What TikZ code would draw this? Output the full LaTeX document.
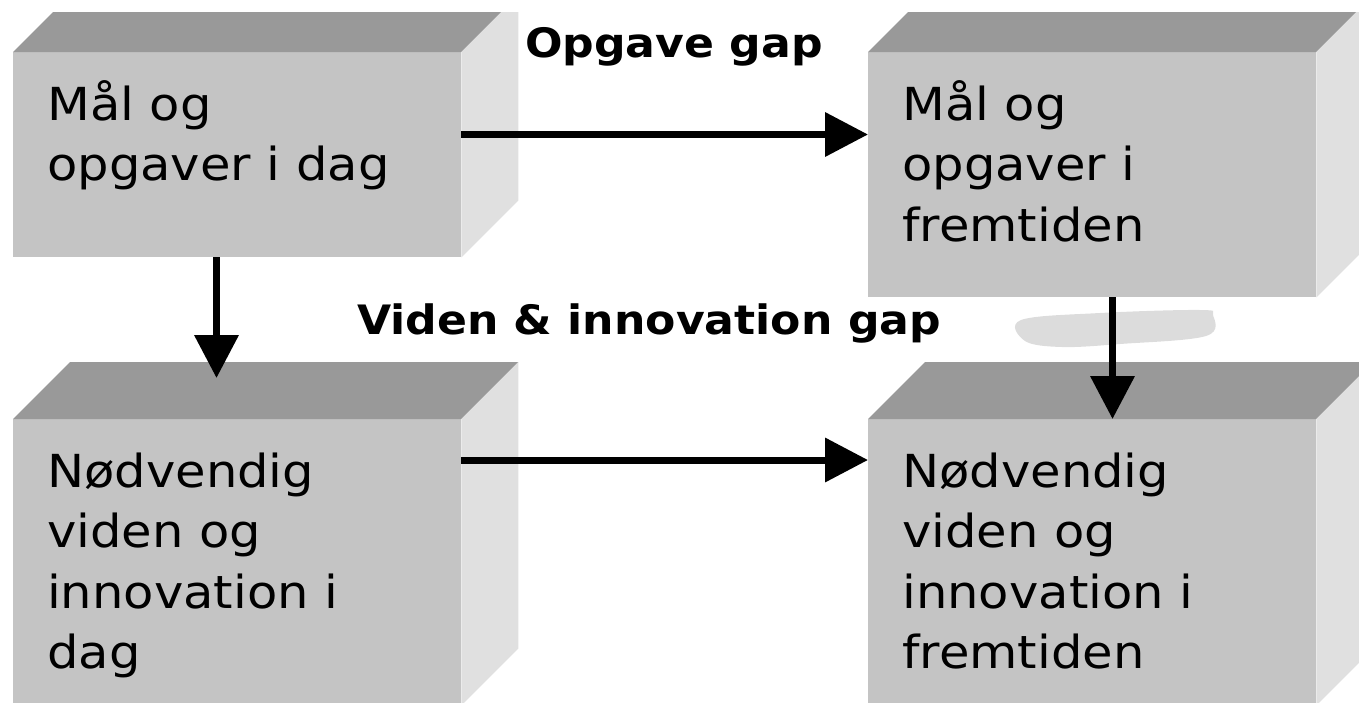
\documentclass[tikz,border=0pt]{standalone}
\usepackage{fontspec}
\setmainfont{DejaVu Sans}
\newfontfamily\boxfont[FakeStretch=1.09]{DejaVu Sans}
\usetikzlibrary{arrows.meta,calc}
\definecolor{frontc}{RGB}{196,196,196}
\definecolor{topc}{RGB}{153,153,153}
\definecolor{sidec}{RGB}{224,224,224}
\definecolor{blobc}{RGB}{220,220,220}
\newcommand\cubefaces[1]{%
  \fill[topc] (#1.north west) -- ++(57,-57) -- ($(#1.north east)+(57,-57)$) -- (#1.north east) -- cycle;
  \fill[sidec] (#1.north east) -- ++(57,-57) -- ($(#1.south east)+(57,-57)$) -- (#1.south east) -- cycle;}
\begin{document}
\begin{tikzpicture}[x=1pt,y=-1pt,
  cubebox/.style={fill=frontc, draw=none, inner sep=0pt, anchor=north west, minimum width=448pt},
  boxtxt/.style={anchor=base west, inner sep=0pt, align=left, font=\boxfont\fontsize{45.5}{60.5}\selectfont},
  gaplbl/.style={anchor=base, inner sep=0pt, font=\boxfont\bfseries\fontsize{40.5}{48}\selectfont},
  arr/.style={line width=7pt, -{Triangle[length=43pt,width=43pt]}}]
\useasboundingbox (0,0) rectangle (1359,702);
\clip (0,12) rectangle (1359,702);
% boxes
\node[cubebox, minimum height=205pt] (a) at (13,52) {};
\node[cubebox, minimum height=245pt] (b) at (868,52) {};
\node[cubebox, minimum height=286pt] (c) at (13,419) {};
\node[cubebox, minimum height=286pt] (d) at (868,419) {};
\cubefaces{a}
\cubefaces{b}
\cubefaces{c}
\cubefaces{d}
% smudge
\fill[blobc] plot[smooth cycle, tension=0.6] coordinates {(1021,320) (1100,313) (1200,310) (1213,315) (1206,336) (1120,344) (1062,347) (1025,341)};
% texts
\node[boxtxt] (ta) at (47,120) {\vtop{\hbox{Mål og}\hbox{opgaver i dag}}};
\node[boxtxt] (tb) at (902,120) {\vtop{\hbox{Mål og}\hbox{opgaver i}\hbox{fremtiden}}};
\node[boxtxt] (tc) at (47,487) {\vtop{\hbox{Nødvendig}\hbox{viden og}\hbox{innovation i}\hbox{dag}}};
\node[boxtxt] (td) at (902,487) {\vtop{\hbox{Nødvendig}\hbox{viden og}\hbox{innovation i}\hbox{fremtiden}}};
\node[gaplbl] (g1) at (674,57) {Opgave gap};
\node[gaplbl] (g2) at (649,334) {Viden \& innovation gap};
% arrows
\coordinate (r1) at (0,134.5);
\coordinate (r2) at (0,460);
\coordinate (t1) at (216.5,378);
\coordinate (v2) at (1112.5,0);
\draw[arr] (a.east |- r1) -- (b.west |- r1);
\draw[arr] (c.east |- r2) -- (d.west |- r2);
\draw[arr] (a.south -| t1) -- (t1);
\draw[arr] (b.south -| v2) -- (d.north -| v2);
\end{tikzpicture}
\end{document}
